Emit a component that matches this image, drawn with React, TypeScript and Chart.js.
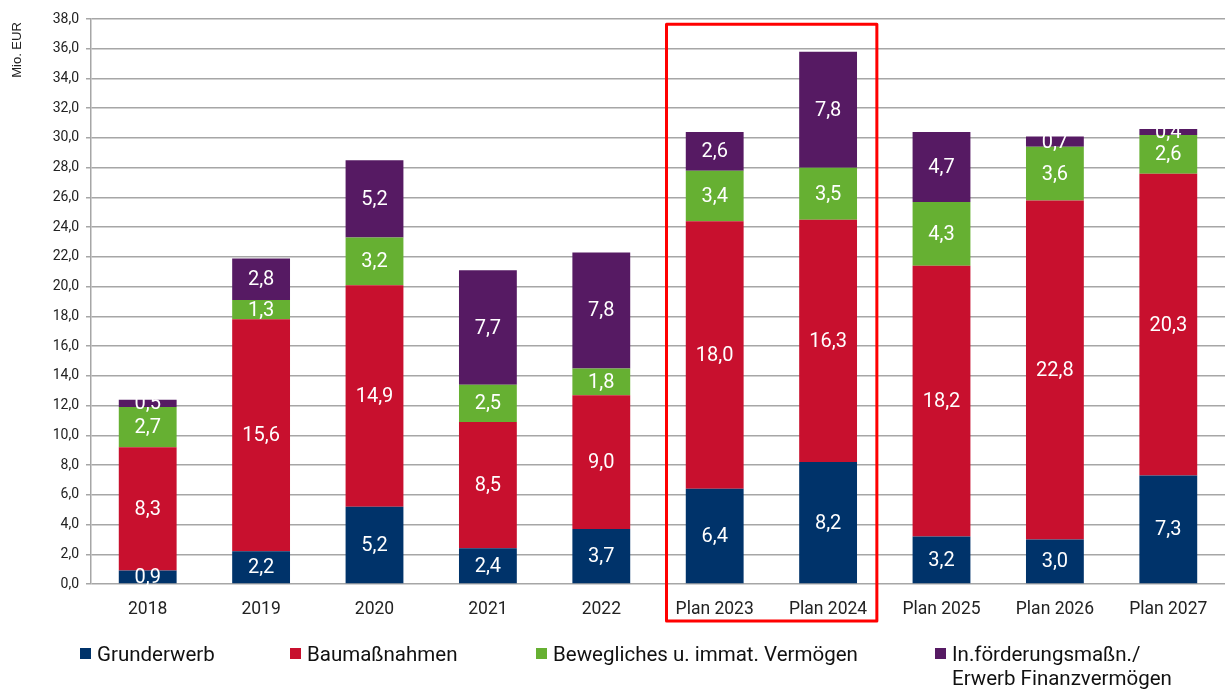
import React, { useEffect, useRef } from "react";
import { Chart, registerables } from "chart.js";

Chart.register(...registerables);

const categories = ["2018", "2019", "2020", "2021", "2022", "Plan 2023", "Plan 2024", "Plan 2025", "Plan 2026", "Plan 2027"];
const grunderwerb = [0.9, 2.2, 5.2, 2.4, 3.7, 6.4, 8.2, 3.2, 3.0, 7.3];
const baumassnahmen = [8.3, 15.6, 14.9, 8.5, 9.0, 18.0, 16.3, 18.2, 22.8, 20.3];
const bewegliches = [2.7, 1.3, 3.2, 2.5, 1.8, 3.4, 3.5, 4.3, 3.6, 2.6];
const foerderung = [0.5, 2.8, 5.2, 7.7, 7.8, 2.6, 7.8, 4.7, 0.7, 0.4];
const seriesNames = ["Grunderwerb", "Baumaßnahmen", "Bewegliches u. immat. Vermögen", ["In.förderungsmaßn./", "Erwerb Finanzvermögen"]];
const colors = ["#00336A", "#C8102E", "#66B032", "#561A63"];
const highlighted = [5, 6];

const fmt = (v: number) => v.toFixed(1).replace(".", ",");

const labelPlugin = {
  id: "segLabels",
  afterDatasetsDraw(chart: any) {
    const ctx = chart.ctx;
    ctx.save();
    ctx.fillStyle = "#ffffff";
    ctx.font = "20px Roboto";
    ctx.textAlign = "center";
    ctx.textBaseline = "middle";
    chart.data.datasets.forEach((ds: any, di: number) => {
      const meta = chart.getDatasetMeta(di);
      meta.data.forEach((el: any, i: number) => {
        const v = ds.data[i];
        ctx.fillText(fmt(v), el.x, (el.y + el.base) / 2 + 1);
      });
    });
    ctx.restore();
  },
};

const decoPlugin = {
  id: "deco",
  afterDraw(chart: any) {
    const ctx = chart.ctx;
    const x = chart.scales.x;
    const y = chart.scales.y;
    const ca = chart.chartArea;
    const step = x.getPixelForValue(1) - x.getPixelForValue(0);
    const left = x.getPixelForValue(highlighted[0]) - step * 0.425;
    const right = x.getPixelForValue(highlighted[1]) + step * 0.43;
    const top = y.getPixelForValue(37.65);
    const bottom = ca.bottom + 37;
    ctx.save();
    ctx.strokeStyle = "#FF0000";
    ctx.lineWidth = 3;
    ctx.lineJoin = "round";
    ctx.strokeRect(left, top, right - left, bottom - top);
    ctx.restore();

    ctx.save();
    ctx.translate(17, 50);
    ctx.rotate(-Math.PI / 2);
    ctx.fillStyle = "#222";
    ctx.font = "13px 'Liberation Sans', Arial";
    ctx.textAlign = "center";
    ctx.textBaseline = "middle";
    ctx.fillText("Mio. EUR", 0, 0);
    ctx.restore();
  },
};

export default function App() {
  const ref = useRef<HTMLCanvasElement | null>(null);
  useEffect(() => {
    if (!ref.current) return;
    const data = [grunderwerb, baumassnahmen, bewegliches, foerderung];
    const chart = new Chart(ref.current, {
      type: "bar",
      data: {
        labels: categories,
        datasets: data.map((d, i) => ({
          label: Array.isArray(seriesNames[i]) ? (seriesNames[i] as string[]).join(" ") : (seriesNames[i] as string),
          data: d,
          backgroundColor: colors[i],
          borderWidth: 0,
          barPercentage: 0.51,
          categoryPercentage: 1,
        })),
      },
      options: {
        responsive: false,
        animation: false,
        layout: { padding: { left: 0, right: 0, top: 19, bottom: 65 } },
        plugins: { legend: { display: false }, tooltip: { enabled: false } },
        scales: {
          x: {
            stacked: true,
            grid: { display: false },
            border: { display: false },
            ticks: { font: { family: "Roboto", size: 17.5 }, color: "#222", padding: 7, maxRotation: 0 },
            afterFit: (s: any) => { s.height = 40; },
          },
          y: {
            stacked: true,
            min: 0,
            max: 38,
            ticks: {
              stepSize: 2,
              font: { family: "Roboto", size: 14 },
              color: "#222",
              padding: 7,
              callback: (v: any) => fmt(Number(v)),
            },
            grid: { color: "#A6A6A6", lineWidth: 1.5, tickLength: 5 },
            border: { color: "#A6A6A6", width: 1.5 },
            afterFit: (s: any) => { s.width = 91; },
          },
        },
      },
      plugins: [labelPlugin, decoPlugin],
    });
    return () => chart.destroy();
  }, []);

  const legendLeft = [80, 290, 536, 935];
  return (
    <div style={{ position: "fixed", left: 0, top: 0, width: 1225, height: 689, background: "#fff", overflow: "hidden" }}>
      <canvas ref={ref} width={1225} height={689} style={{ position: "absolute", left: 0, top: 0 }} />
      {seriesNames.map((name, i) => (
        <div key={i} style={{ position: "absolute", left: legendLeft[i], top: 642, display: "flex", alignItems: "flex-start", fontFamily: "Roboto, sans-serif", fontSize: 20.5, color: "#111", lineHeight: "24px", whiteSpace: "nowrap" }}>
          <span style={{ display: "inline-block", width: 11, height: 11, background: colors[i], marginTop: 6, marginRight: 6, flex: "none" }} />
          <span>{Array.isArray(name) ? (<>{name[0]}<br />{name[1]}</>) : name}</span>
        </div>
      ))}
    </div>
  );
}
